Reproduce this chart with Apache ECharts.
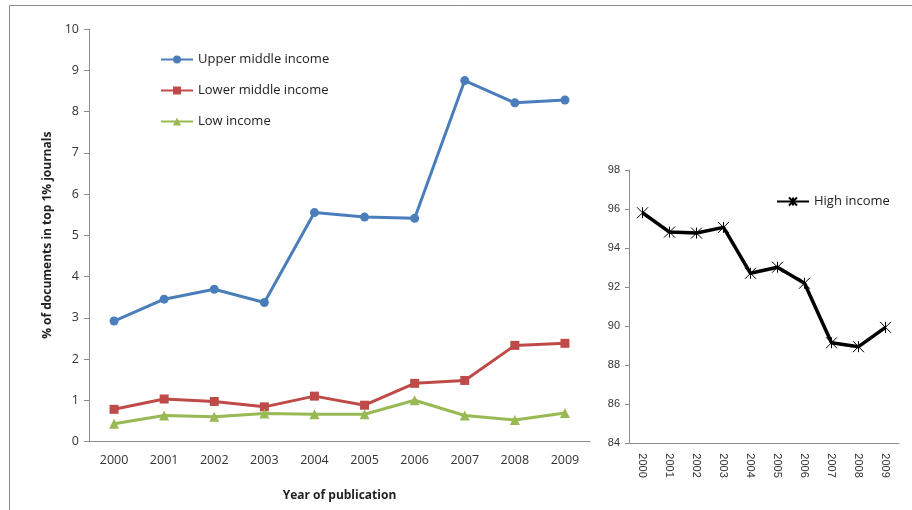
<!DOCTYPE html>
<html>
<head>
<meta charset="utf-8">
<script src="https://cdn.jsdelivr.net/npm/echarts@6/dist/echarts.min.js"></script>
<style>
  html, body { margin: 0; padding: 0; background: #fff; }
  #chart { width: 912px; height: 510px; }
</style>
</head>
<body>
<div id="chart"></div>
<script>
const years = ["2000", "2001", "2002", "2003", "2004", "2005", "2006", "2007", "2008", "2009"];
const upperMiddle = [2.92, 3.45, 3.69, 3.37, 5.55, 5.44, 5.41, 8.75, 8.21, 8.28];
const lowerMiddle = [0.78, 1.03, 0.97, 0.84, 1.10, 0.88, 1.41, 1.48, 2.33, 2.38];
const lowIncome = [0.43, 0.63, 0.60, 0.68, 0.66, 0.66, 1.00, 0.63, 0.52, 0.69];
const highIncome = [95.81, 94.82, 94.77, 95.06, 92.71, 93.02, 92.20, 89.15, 88.95, 89.94];

const axisGray = "#8c8c8c";
const textColor = "#333333";
const starPath = "path://M0,0 L10,10 M10,0 L0,10 M5,0 L5,10";

let myChart = echarts.init(document.getElementById("chart"));

let option = {
  animation: false,
  textStyle: { fontFamily: "Open Sans, DejaVu Sans, sans-serif" },
  graphic: [
    {
      type: "rect",
      shape: { x: 9.5, y: 5.5, width: 920, height: 520 },
      style: { fill: "none", stroke: "#8a8a8a", lineWidth: 1 },
      silent: true,
    },
  ],
  legend: [
    {
      orient: "vertical",
      left: 155,
      top: 48,
      itemWidth: 32,
      itemHeight: 10,
      itemGap: 18,
      textStyle: { color: "#222", fontSize: 13 },
      data: ["Upper middle income", "Lower middle income", "Low income"],
    },
    {
      orient: "vertical",
      left: 771,
      top: 190,
      itemWidth: 32,
      itemHeight: 10,
      textStyle: { color: "#222", fontSize: 13 },
      data: ["High income"],
    },
  ],
  grid: [
    { left: 89, top: 29, width: 501, height: 412.5 },
    { left: 629, top: 170, width: 270, height: 273.3 },
  ],
  xAxis: [
    {
      gridIndex: 0,
      type: "category",
      data: years,
      boundaryGap: true,
      name: "Year of publication",
      nameLocation: "middle",
      nameGap: 48,
      nameTextStyle: { fontWeight: "bold", fontSize: 12, color: "#222" },
      axisLine: { lineStyle: { color: axisGray } },
      axisTick: { length: 5, lineStyle: { color: axisGray } },
      axisLabel: { color: textColor, fontSize: 12.5, margin: 12 },
    },
    {
      gridIndex: 1,
      type: "category",
      data: years,
      boundaryGap: true,
      axisLine: { lineStyle: { color: axisGray } },
      axisTick: { length: 4, lineStyle: { color: axisGray } },
      axisLabel: {
        color: textColor,
        fontSize: 11,
        rotate: -90,
        margin: 10,
        fontFamily: "Liberation Sans Narrow, Liberation Sans, sans-serif",
      },
    },
  ],
  yAxis: [
    {
      gridIndex: 0,
      type: "value",
      min: 0,
      max: 10,
      interval: 1,
      name: "% of documents in top 1% journals",
      nameLocation: "middle",
      nameGap: 34,
      nameTextStyle: { fontWeight: "bold", fontSize: 12, color: "#222" },
      axisLine: { show: true, lineStyle: { color: axisGray } },
      axisTick: { show: true, length: 5, lineStyle: { color: axisGray } },
      axisLabel: { color: textColor, fontSize: 12.5, margin: 10 },
      splitLine: { show: false },
    },
    {
      gridIndex: 1,
      type: "value",
      min: 84,
      max: 98,
      interval: 2,
      axisLine: { show: true, lineStyle: { color: axisGray } },
      axisTick: { show: true, length: 4, lineStyle: { color: axisGray } },
      axisLabel: {
        color: textColor,
        fontSize: 11,
        margin: 9,
        fontFamily: "Liberation Sans Narrow, Liberation Sans, sans-serif",
      },
      splitLine: { show: false },
    },
  ],
  series: [
    {
      name: "Upper middle income",
      type: "line",
      xAxisIndex: 0,
      yAxisIndex: 0,
      symbol: "circle",
      symbolSize: 9,
      lineStyle: { color: "#4A7EBB", width: 3 },
      itemStyle: { color: "#4A7EBB" },
      data: upperMiddle,
    },
    {
      name: "Lower middle income",
      type: "line",
      xAxisIndex: 0,
      yAxisIndex: 0,
      symbol: "rect",
      symbolSize: 9,
      lineStyle: { color: "#BE4B48", width: 3 },
      itemStyle: { color: "#BE4B48" },
      data: lowerMiddle,
    },
    {
      name: "Low income",
      type: "line",
      xAxisIndex: 0,
      yAxisIndex: 0,
      symbol: "triangle",
      symbolSize: 10,
      lineStyle: { color: "#98B954", width: 3 },
      itemStyle: { color: "#98B954" },
      data: lowIncome,
    },
    {
      name: "High income",
      type: "line",
      xAxisIndex: 1,
      yAxisIndex: 1,
      symbol: starPath,
      symbolSize: 11,
      lineStyle: { color: "#000", width: 3.5 },
      itemStyle: { color: "none", borderColor: "#000", borderWidth: 1 },
      data: highIncome,
    },
  ],
};

myChart.setOption(option);
</script>
</body>
</html>
